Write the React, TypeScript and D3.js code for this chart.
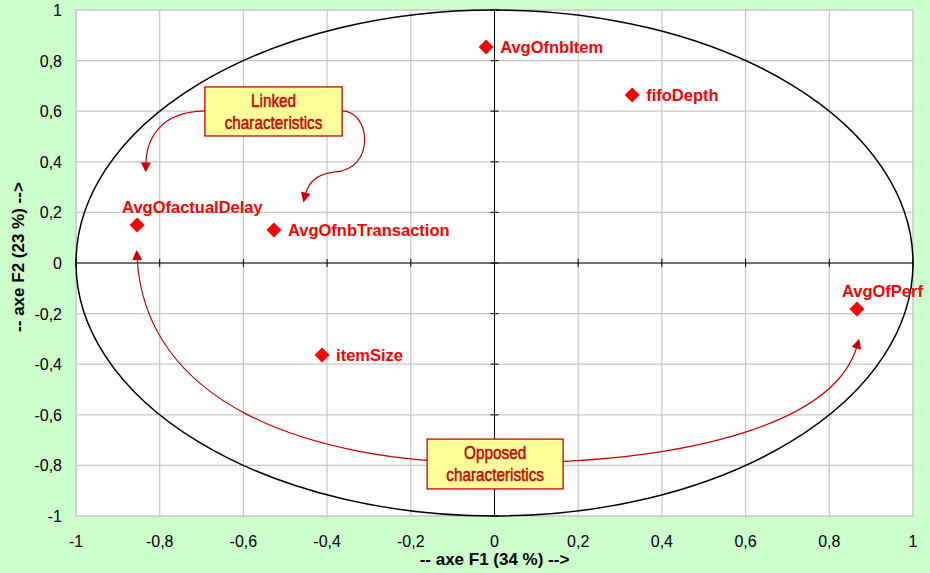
import * as d3 from 'd3';
import { useRef, useEffect } from 'react';

// variables on the correlation circle (F1, F2 coordinates)
const variables = ["AvgOfnbItem", "fifoDepth", "AvgOfactualDelay", "AvgOfnbTransaction", "itemSize", "AvgOfPerf"];
const f1Values = [-0.02, 0.329, -0.854, -0.527, -0.412, 0.866];
const f2Values = [0.854, 0.664, 0.150, 0.130, -0.364, -0.182];
const labelSide = ["right", "right", "above", "right", "right", "above"];

const tickValues = [-1, -0.8, -0.6, -0.4, -0.2, 0, 0.2, 0.4, 0.6, 0.8, 1];
const xTitle = "-- axe F1 (34 %) -->";
const yTitle = "-- axe F2 (23 %) -->";

// callout boxes, in data units: [x0, yTop, x1, yBottom]
const calloutLines = [["Linked", "characteristics"], ["Opposed", "characteristics"]];
const calloutBoxes = [[-0.692, 0.696, -0.364, 0.502], [-0.161, -0.696, 0.164, -0.893]];

// curved arrows, in data units: start point then cubic segments (3 points each)
const arrowPaths = [
  [[-0.692, 0.601], [-0.80, 0.597], [-0.832, 0.49], [-0.833, 0.39]],
  [[-0.364, 0.601], [-0.293, 0.597], [-0.286, 0.368], [-0.381, 0.360], [-0.429, 0.352], [-0.446, 0.31], [-0.452, 0.27]],
  [[-0.854, 0.02], [-0.835, -0.542], [-0.465, -0.791], [0.001, -0.791], [0.491, -0.791], [0.814, -0.621], [0.866, -0.33]],
];
const arrowBothEnds = [false, false, true];

export default function App() {
  const ref = useRef<SVGSVGElement>(null);

  useEffect(() => {
    const width = 930;
    const height = 573;
    const margin = { top: 10, right: 17, bottom: 57, left: 76 };

    const svg = d3.select(ref.current)
      .attr("width", width)
      .attr("height", height)
      .style("font-family", "'Liberation Sans', Arial, sans-serif");

    svg.selectAll("*").remove();

    const x = d3.scaleLinear().domain([-1, 1]).range([margin.left, width - margin.right]);
    const y = d3.scaleLinear().domain([-1, 1]).range([height - margin.bottom, margin.top]);

    svg.append("rect").attr("width", width).attr("height", height).attr("fill", "#ccffcc");

    svg.append("defs").append("marker")
      .attr("id", "head")
      .attr("viewBox", "0 0 10 10")
      .attr("refX", 2).attr("refY", 5)
      .attr("markerUnits", "userSpaceOnUse")
      .attr("markerWidth", 11).attr("markerHeight", 10)
      .attr("orient", "auto-start-reverse")
      .append("path").attr("d", "M0,0 L10,5 L0,10 Z").attr("fill", "#cc0000");

    // plot area
    svg.append("rect")
      .attr("x", x(-1)).attr("y", y(1))
      .attr("width", x(1) - x(-1)).attr("height", y(-1) - y(1))
      .attr("fill", "#fff").attr("stroke", "#c8c8c8").attr("stroke-width", 1.5);

    const grid = svg.append("g").attr("stroke", "#c8c8c8").attr("stroke-width", 1.2);
    grid.selectAll(".v").data(tickValues.slice(1, -1)).join("line")
      .attr("x1", d => x(d)).attr("x2", d => x(d))
      .attr("y1", y(1)).attr("y2", y(-1));
    grid.selectAll(".h").data(tickValues.slice(1, -1)).join("line")
      .attr("y1", d => y(d)).attr("y2", d => y(d))
      .attr("x1", x(-1)).attr("x2", x(1));

    // axes through the origin
    const axes = svg.append("g").attr("stroke", "#000").attr("stroke-width", 1);
    axes.append("line").attr("x1", x(-1)).attr("x2", x(1)).attr("y1", y(0)).attr("y2", y(0));
    axes.append("line").attr("x1", x(0)).attr("x2", x(0)).attr("y1", y(-1)).attr("y2", y(1));
    axes.selectAll(".tx").data(tickValues).join("line")
      .attr("x1", d => x(d)).attr("x2", d => x(d)).attr("y1", y(0) - 4).attr("y2", y(0) + 4);
    axes.selectAll(".ty").data(tickValues).join("line")
      .attr("y1", d => y(d)).attr("y2", d => y(d)).attr("x1", x(0) - 4).attr("x2", x(0) + 4);

    // unit circle
    svg.append("ellipse")
      .attr("cx", x(0)).attr("cy", y(0))
      .attr("rx", x(1) - x(0)).attr("ry", y(0) - y(1))
      .attr("fill", "none").attr("stroke", "#000").attr("stroke-width", 1.5);

    const fmt = (d: number) => String(d).replace(".", ",");

    svg.append("g").selectAll("text").data(tickValues).join("text")
      .attr("x", d => x(d)).attr("y", height - margin.bottom + 31)
      .attr("text-anchor", "middle").attr("font-size", 16).attr("fill", "#000")
      .text(fmt);
    svg.append("g").selectAll("text").data(tickValues).join("text")
      .attr("x", margin.left - 14).attr("y", d => y(d) + 6)
      .attr("text-anchor", "end").attr("font-size", 16).attr("fill", "#000")
      .text(fmt);

    svg.append("text")
      .attr("x", x(0)).attr("y", height - 8)
      .attr("text-anchor", "middle").attr("font-size", 17).attr("font-weight", "bold")
      .text(xTitle);
    svg.append("text")
      .attr("transform", `translate(24,${y(0) - 6}) rotate(-90)`)
      .attr("text-anchor", "middle").attr("font-size", 17).attr("font-weight", "bold")
      .text(yTitle);

    // arrows
    const toPath = (pts: number[][]) => {
      const p = d3.path();
      p.moveTo(x(pts[0][0]), y(pts[0][1]));
      for (let i = 1; i + 2 < pts.length; i += 3) {
        p.bezierCurveTo(x(pts[i][0]), y(pts[i][1]), x(pts[i + 1][0]), y(pts[i + 1][1]), x(pts[i + 2][0]), y(pts[i + 2][1]));
      }
      return p.toString();
    };
    svg.append("g").selectAll("path").data(arrowPaths).join("path")
      .attr("d", toPath)
      .attr("fill", "none").attr("stroke", "#cc0000").attr("stroke-width", 1.2)
      .attr("marker-end", "url(#head)")
      .attr("marker-start", (d, i) => arrowBothEnds[i] ? "url(#head)" : null);

    // callouts
    const callout = svg.append("g").selectAll("g").data(calloutBoxes).join("g");
    callout.append("rect")
      .attr("x", d => x(d[0])).attr("y", d => y(d[1]))
      .attr("width", d => x(d[2]) - x(d[0])).attr("height", d => y(d[3]) - y(d[1]))
      .attr("fill", "#ffff99").attr("stroke", "#cc0000").attr("stroke-width", 1.3);
    callout.append("text")
      .attr("transform", d => `translate(${(x(d[0]) + x(d[2])) / 2},${y(d[1])}) scale(0.85,1)`)
      .attr("text-anchor", "middle")
      .attr("font-size", 18).attr("fill", "#cc0000")
      .attr("stroke", "#cc0000").attr("stroke-width", 0.5)
      .selectAll("tspan").data((d, i) => calloutLines[i]).join("tspan")
      .attr("x", 0)
      .attr("dy", (d, i) => i === 0 ? 20 : 22)
      .text(d => d);

    // variables
    const points = svg.append("g").selectAll("g").data(variables).join("g")
      .attr("transform", (d, i) => `translate(${x(f1Values[i])},${y(f2Values[i])})`);
    points.append("path")
      .attr("d", "M0,-7.5 L7.5,0 L0,7.5 L-7.5,0 Z")
      .attr("fill", "#ff0000");
    points.append("text")
      .attr("x", (d, i) => labelSide[i] === "above" ? -15 : 14)
      .attr("y", (d, i) => labelSide[i] === "above" ? -12 : 6)
      .attr("font-size", 16.5).attr("font-weight", "bold").attr("fill", "#ff0000")
      .text(d => d);
  }, []);

  return (
    <div style={{ position: "fixed", left: 0, top: 0 }}>
      <svg ref={ref}></svg>
    </div>
  );
}
